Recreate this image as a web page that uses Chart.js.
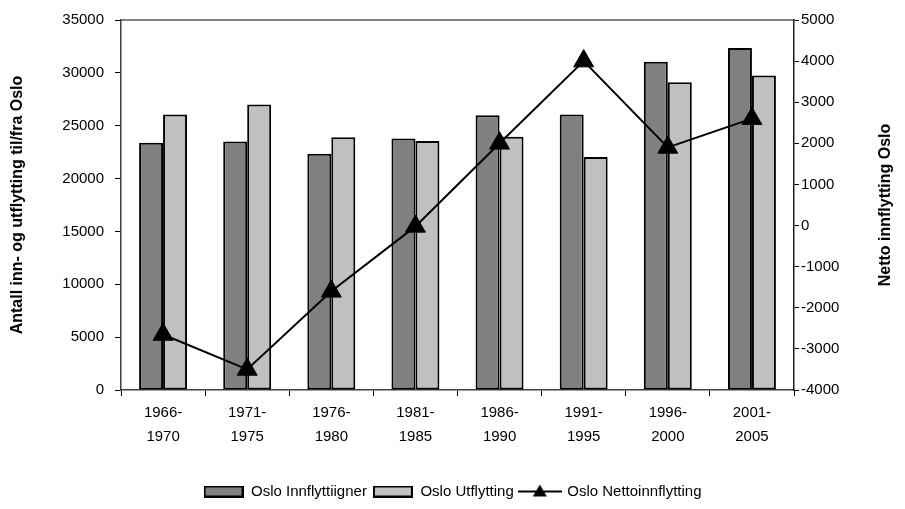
<!DOCTYPE html>
<html>
<head>
<meta charset="utf-8">
<script src="https://cdn.jsdelivr.net/npm/chart.js@4/dist/chart.umd.min.js"></script>
<style>
  html, body { margin: 0; padding: 0; background: #fff; }
</style>
</head>
<body>
<canvas id="osloChart" width="905" height="509"></canvas>
<script>
const periods = [
    ["1966-", "1970"], ["1971-", "1975"], ["1976-", "1980"], ["1981-", "1985"],
    ["1986-", "1990"], ["1991-", "1995"], ["1996-", "2000"], ["2001-", "2005"]
];
const innflytting = [23400, 23500, 22350, 23800, 26000, 26050, 31050, 32350];
const utflytting = [26050, 27000, 23900, 23550, 23950, 22050, 29100, 29750];
const netto = [-2650, -3500, -1600, -20, 2000, 4000, 1900, 2600];
const seriesNames = ["Oslo Innflyttiigner", "Oslo Utflytting", "Oslo Nettoinnflytting"];

const FONT = "Arial, 'Liberation Sans', sans-serif";

// small legend icons
function barIcon(fill) {
    const c = document.createElement("canvas");
    c.width = 40; c.height = 12;
    const g = c.getContext("2d");
    g.fillStyle = fill;
    g.fillRect(1, 1, 38, 10);
    g.lineWidth = 2;
    g.strokeStyle = "#000";
    g.strokeRect(1, 1, 38, 10);
    return c;
}
function lineIcon() {
    const c = document.createElement("canvas");
    c.width = 44; c.height = 16;
    const g = c.getContext("2d");
    g.strokeStyle = "#000";
    g.lineWidth = 2;
    g.beginPath(); g.moveTo(0, 8); g.lineTo(44, 8); g.stroke();
    g.fillStyle = "#000";
    g.beginPath(); g.moveTo(22, 1); g.lineTo(29, 13); g.lineTo(15, 13); g.closePath(); g.fill();
    return c;
}
const icons = [barIcon("#808080"), barIcon("#c0c0c0"), lineIcon()];

// Excel-style right axis title (reads bottom to top)
const rightTitle = {
    id: "rightTitle",
    afterDraw(chart) {
        const s = chart.scales.y1;
        const ctx = chart.ctx;
        ctx.save();
        ctx.translate(s.right - 19, (s.top + s.bottom) / 2);
        ctx.rotate(-Math.PI / 2);
        ctx.font = "bold 16px " + FONT;
        ctx.fillStyle = "#000";
        ctx.textAlign = "center";
        ctx.textBaseline = "middle";
        ctx.fillText("Netto innflytting Oslo", 0, 0);
        ctx.restore();
    }
};

const plain = v => String(v);

new Chart(document.getElementById("osloChart"), {
    type: "bar",
    data: {
        labels: periods,
        datasets: [
            {
                type: "line",
                label: seriesNames[2],
                data: netto,
                yAxisID: "y1",
                borderColor: "#000",
                borderWidth: 2,
                pointStyle: "triangle",
                pointRadius: 11.5,
                pointBackgroundColor: "#000",
                pointBorderColor: "#000",
                pointBorderWidth: 1,
                tension: 0,
                order: 0
            },
            {
                label: seriesNames[0],
                data: innflytting,
                yAxisID: "y",
                backgroundColor: "#808080",
                borderColor: "#000",
                borderWidth: 2,
                borderSkipped: false,
                categoryPercentage: 0.57,
                barPercentage: 1.0,
                order: 1
            },
            {
                label: seriesNames[1],
                data: utflytting,
                yAxisID: "y",
                backgroundColor: "#c0c0c0",
                borderColor: "#000",
                borderWidth: 2,
                borderSkipped: false,
                categoryPercentage: 0.57,
                barPercentage: 1.0,
                order: 1
            }
        ]
    },
    options: {
        responsive: false,
        animation: false,
        layout: { padding: 0 },
        plugins: {
            tooltip: { enabled: false },
            legend: {
                position: "bottom",
                labels: {
                    usePointStyle: true,
                    pointStyleWidth: 40,
                    padding: 6,
                    color: "#000",
                    font: { family: FONT, size: 15 },
                    generateLabels(chart) {
                        return [1, 2, 0].map((di, k) => ({
                            text: chart.data.datasets[di].label,
                            pointStyle: icons[k],
                            datasetIndex: di,
                            fontColor: "#000",
                            hidden: false
                        }));
                    }
                }
            }
        },
        scales: {
            x: {
                type: "category",
                offset: true,
                grid: { display: true, drawOnChartArea: false, offset: true, tickLength: 6, color: "#000" },
                border: { color: "#404040", width: 1.5 },
                ticks: {
                    color: "#000",
                    padding: 5,
                    maxRotation: 0,
                    font: { family: FONT, size: 15, lineHeight: 1.6 }
                },
                afterFit(s) { s.height = 88; }
            },
            xTop: {
                type: "category",
                position: "top",
                grid: { display: false },
                ticks: { display: false },
                border: { color: "#808080", width: 2 },
                afterFit(s) { s.height = 20; }
            },
            y: {
                position: "left",
                min: 0,
                max: 35000,
                ticks: {
                    stepSize: 5000,
                    color: "#000",
                    padding: 11,
                    callback: plain,
                    font: { family: FONT, size: 15 }
                },
                grid: { drawOnChartArea: false, tickLength: 6, color: "#000" },
                border: { color: "#404040", width: 1.5 },
                title: {
                    display: true,
                    text: "Antall inn- og utflytting til/fra Oslo",
                    color: "#000",
                    padding: { top: 8, bottom: 0 },
                    font: { family: FONT, size: 16, weight: "bold" }
                },
                afterFit(s) { s.width = 121; }
            },
            y1: {
                position: "right",
                min: -4000,
                max: 5000,
                ticks: {
                    stepSize: 1000,
                    color: "#000",
                    padding: 2,
                    callback: plain,
                    font: { family: FONT, size: 15 }
                },
                grid: { drawOnChartArea: false, tickLength: 5, color: "#000" },
                border: { color: "#202020", width: 1.5 },
                afterFit(s) { s.width = 111; }
            }
        }
    },
    plugins: [rightTitle]
});
</script>
</body>
</html>
